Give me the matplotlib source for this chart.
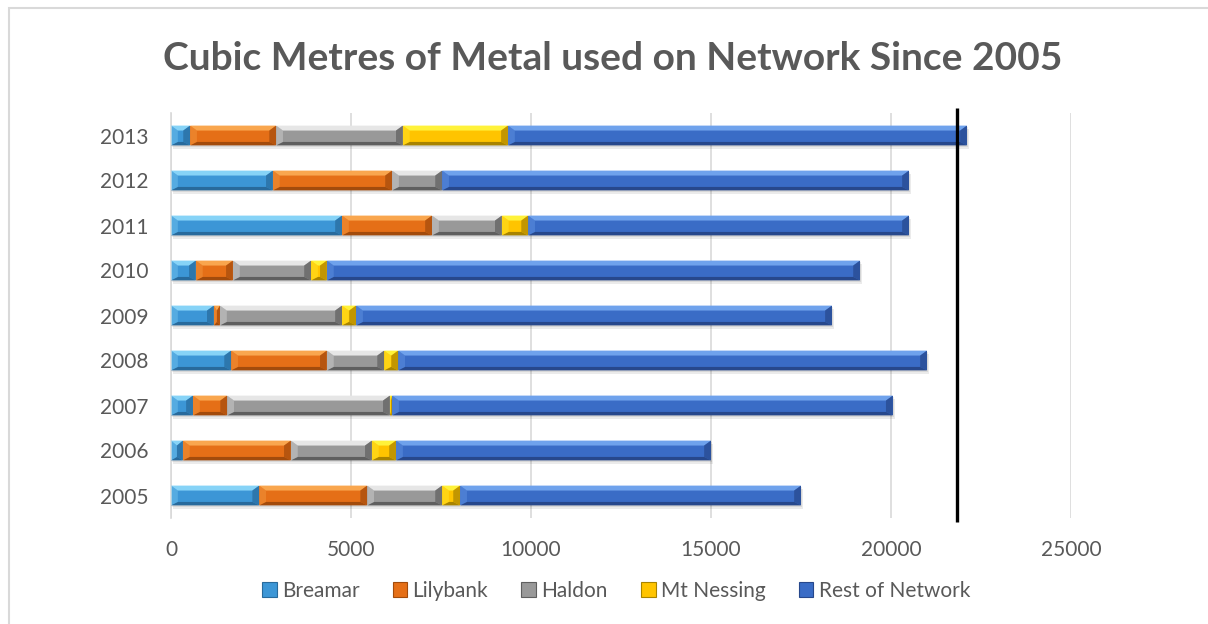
import matplotlib.pyplot as plt
import matplotlib.patches as mpatches
import numpy as np

plt.rcParams['font.family'] = ['Lato', 'DejaVu Sans']

years = ['2005', '2006', '2007', '2008', '2009', '2010', '2011', '2012', '2013']
series = ['Breamar', 'Lilybank', 'Haldon', 'Mt Nessing', 'Rest of Network']

breamar = [2450, 330, 610, 1670, 1190, 690, 4750, 2830, 530]
lilybank = [3000, 3000, 950, 2660, 170, 1030, 2500, 3310, 2390]
haldon = [2080, 2250, 4520, 1590, 3390, 2170, 1940, 1390, 3520]
mt_nessing = [500, 670, 60, 390, 390, 440, 730, 0, 2920]
rest_of_network = [9470, 8750, 13910, 14690, 13220, 14810, 10580, 12970, 12750]

target_line = 21830

# base, highlight, shade for each series
colours = {
    'Breamar': ('#3C96D6', '#86D3F7', '#286A9C'),
    'Lilybank': ('#E56F17', '#F9A64E', '#A24B0C'),
    'Haldon': ('#999999', '#E6E6E6', '#5F5F5F'),
    'Mt Nessing': ('#FFC400', '#FFF23A', '#A88300'),
    'Rest of Network': ('#3A6CC6', '#6FA2EC', '#27488C'),
}

fig = plt.figure(figsize=(12.08, 6.24), dpi=100)
ax = fig.add_axes([171 / 1208, 1 - 518 / 624, 900 / 1208, 405 / 624])

values = [breamar, lilybank, haldon, mt_nessing, rest_of_network]
y = np.arange(len(years))
h = 0.22
bx = 190
by = 0.11

left = np.zeros(len(years))
totals = np.sum(values, axis=0)

# soft shadow under each full bar
for i in range(len(years)):
    ax.add_patch(mpatches.Rectangle((60, y[i] - h - 0.07), totals[i], 2 * h,
                                    facecolor='#000000', alpha=0.08, lw=0, zorder=1))
    ax.add_patch(mpatches.Rectangle((30, y[i] - h - 0.035), totals[i], 2 * h,
                                    facecolor='#000000', alpha=0.08, lw=0, zorder=1))

for name, vals in zip(series, values):
    base, light, dark = colours[name]
    vals = np.array(vals, dtype=float)
    ax.barh(y, vals, left=left, height=2 * h, color=base, zorder=2, linewidth=0)
    for i in range(len(years)):
        w = vals[i]
        if w <= 0:
            continue
        x0, x1 = left[i], left[i] + w
        c = y[i]
        b = min(bx, w / 2)
        top, bot = c + h, c - h
        # bevelled faces: lit top and left, shaded bottom and right
        ax.fill([x0, x1, x1 - b, x0 + b], [top, top, top - by, top - by],
                color=light, lw=0, zorder=3)
        ax.fill([x0, x1, x1 - b, x0 + b], [bot, bot, bot + by * 0.7, bot + by * 0.7],
                color=dark, lw=0, zorder=3)
        ax.fill([x0, x0, x0 + b, x0 + b], [bot, top, top - by, bot + by * 0.7],
                color=light, alpha=0.35, lw=0, zorder=3)
        ax.fill([x1, x1, x1 - b, x1 - b], [bot, top, top - by, bot + by * 0.7],
                color=dark, alpha=0.7, lw=0, zorder=3)
    left += vals

ax.plot([target_line, target_line], [-0.59, 8.61], color='black', lw=2.4,
        zorder=5, clip_on=False, solid_capstyle='butt')

ax.set_xlim(0, 25000)
ax.set_ylim(-0.5, 8.5)
ax.set_xticks(np.arange(0, 25001, 5000))
ax.set_yticks(y)
ax.set_yticklabels(years)
ax.tick_params(axis='both', length=0, labelsize=15, labelcolor='#595959')
ax.tick_params(axis='y', pad=16)
ax.tick_params(axis='x', pad=16)
ax.grid(axis='x', color='#D9D9D9', lw=1.2, zorder=0)
ax.set_axisbelow(True)
for side in ['top', 'right', 'bottom']:
    ax.spines[side].set_visible(False)
ax.spines['left'].set_color('#D9D9D9')
ax.spines['left'].set_linewidth(1.2)

fig.text(613 / 1208, 1 - 70 / 624, 'Cubic Metres of Metal used on Network Since 2005',
         ha='center', va='baseline', fontsize=28, fontweight='bold', color='#595959')

handles = [mpatches.Patch(facecolor=colours[s][0], edgecolor=colours[s][2], lw=0.8, label=s)
           for s in series]
fig.legend(handles=handles, loc='center', bbox_to_anchor=(616 / 1208, 1 - 591 / 624),
           ncol=5, frameon=False, fontsize=15, labelcolor='#595959',
           handlelength=0.7, handleheight=0.7, handletextpad=0.25, columnspacing=1.6)

# chart frame
fig.add_artist(mpatches.Rectangle((9 / 1208, -0.1), 1.2, 1 - 8 / 624 + 0.1,
                                  transform=fig.transFigure, fill=False,
                                  edgecolor='#D9D9D9', lw=1.5))

fig.savefig('out.png', dpi=100)
